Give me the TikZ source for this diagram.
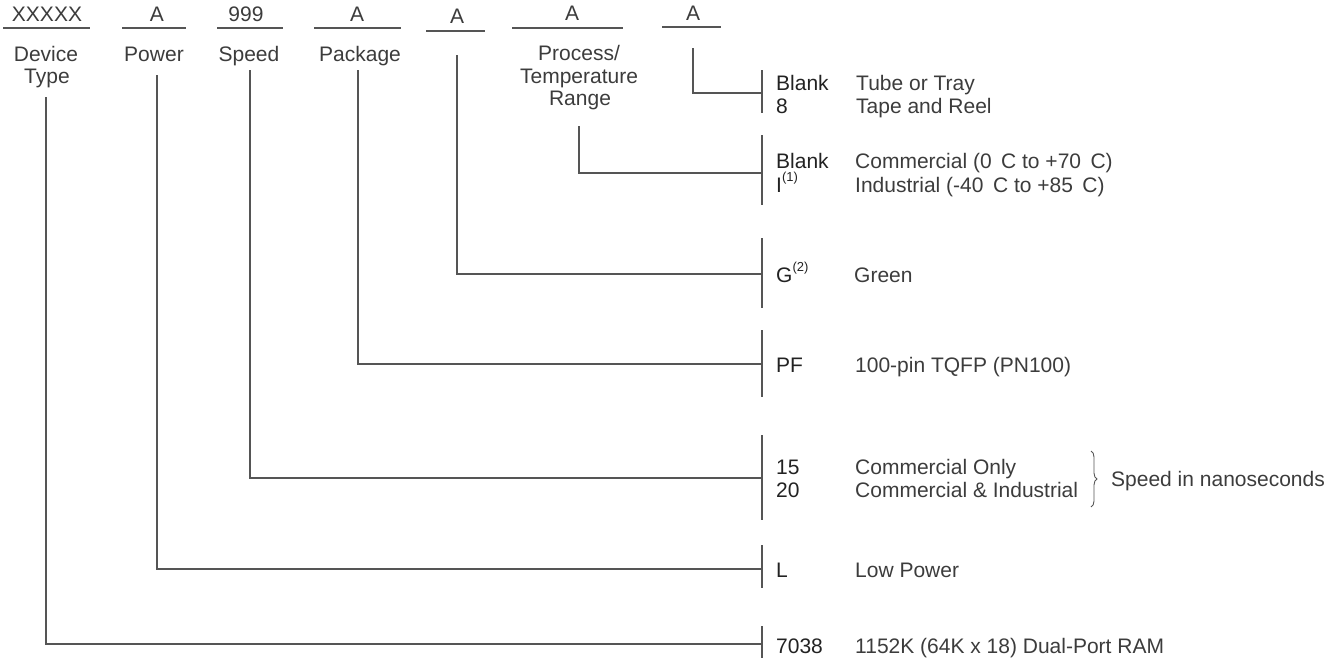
\documentclass[tikz,border=0pt]{standalone}
\usepackage{fontspec}
\setmainfont{Liberation Sans}
\usetikzlibrary{decorations.pathreplacing}
\definecolor{txt}{HTML}{3c3c3c}
\definecolor{codec}{HTML}{222222}
\definecolor{ln}{HTML}{555555}
\newcommand{\supr}[1]{\raisebox{0.5em}{\fontsize{13}{13}\selectfont(#1)}}
\begin{document}
\begin{tikzpicture}[x=1pt,y=-1pt,
  every node/.style={font=\fontsize{21}{23}\selectfont, text=txt, inner sep=0pt},
  toptxt/.style={anchor=base},
  lbl/.style={anchor=base},
  codet/.style={anchor=base west, text=codec},
  desc/.style={anchor=base west},
  uline/.style={draw=ln, line width=1.2pt},
  conn/.style={draw=ln, line width=1.3pt},
  barline/.style={draw=ln, line width=1.3pt}]
\useasboundingbox (0,0) rectangle (1344,657);

% ---- top row fields
\node[toptxt] (f1) at (47,21) {XXXXX};
\node[toptxt] (f2) at (157,21) {A};
\node[toptxt] (f3) at (246,21) {999};
\node[toptxt] (f4) at (357,21) {A};
\node[toptxt] (f5) at (457,23) {A};
\node[toptxt] (f6) at (572,20) {A};
\node[toptxt] (f7) at (693,20) {A};
\coordinate (u1a) at (3,28);   \coordinate (u1b) at (90,28);
\coordinate (u2a) at (122,28); \coordinate (u2b) at (186,28);
\coordinate (u3a) at (217,28); \coordinate (u3b) at (283,28);
\coordinate (u4a) at (314,28); \coordinate (u4b) at (401,28);
\coordinate (u5a) at (426,31); \coordinate (u5b) at (485,31);
\coordinate (u6a) at (512,28); \coordinate (u6b) at (623,28);
\coordinate (u7a) at (662,27); \coordinate (u7b) at (721,27);
\foreach \i in {1,...,7} {\draw[uline] (u\i a) -- (u\i b);}

% ---- field labels
\node[lbl] (l1a) at (46,61) {Device};
\node[lbl] (l1b) at (47,83) {Type};
\node[lbl] (l2) at (154,61) {Power};
\node[lbl] (l3) at (249,61) {Speed};
\node[lbl] (l4) at (360,61) {Package};
\node[lbl] (l6a) at (579,60) {Process/};
\node[lbl] (l6b) at (579,83) {Temperature};
\node[lbl] (l6c) at (580,105) {Range};

% ---- line starts
\coordinate (s1) at (46,97);
\coordinate (s2) at (157,75);
\coordinate (s3) at (250,70);
\coordinate (s4) at (358,70);
\coordinate (s5) at (457,55);
\coordinate (s6) at (579,126);
\coordinate (s7) at (693,48);

% ---- bars (top, join, bottom)
\coordinate (b7t) at (762,70);  \coordinate (b7) at (762,93);  \coordinate (b7b) at (762,113);
\coordinate (b6t) at (762,135); \coordinate (b6) at (762,173); \coordinate (b6b) at (762,205);
\coordinate (b5t) at (762,238); \coordinate (b5) at (762,274); \coordinate (b5b) at (762,308);
\coordinate (b4t) at (762,330); \coordinate (b4) at (762,364); \coordinate (b4b) at (762,397);
\coordinate (b3t) at (762,435); \coordinate (b3) at (762,478); \coordinate (b3b) at (762,520);
\coordinate (b2t) at (762,545); \coordinate (b2) at (762,569); \coordinate (b2b) at (762,588);
\coordinate (b1t) at (762,626); \coordinate (b1) at (762,644); \coordinate (b1b) at (762,660);
\foreach \i in {1,...,7} {
  \draw[barline] (b\i t) -- (b\i b);
  \draw[conn] (s\i) |- (b\i);
}

% ---- option texts
\node[codet] (c7a) at (776,90) {Blank};
\node[codet] (c7b) at (776,113) {8};
\node[desc] (d7a) at (856,90) {Tube or Tray};
\node[desc] (d7b) at (856,113) {Tape and Reel};

\node[codet] (c6a) at (776,168) {Blank};
\node[codet] (c6b) at (776,192) {I\supr{1}};
\node[desc] (d6a) at (855,168) {Commercial (0\hspace{0.45em}C to +70\hspace{0.45em}C)};
\node[desc] (d6b) at (855,192) {Industrial (-40\hspace{0.45em}C to +85\hspace{0.45em}C)};

\node[codet] (c5) at (776,282) {G\supr{2}};
\node[desc] (d5) at (854,282) {Green};

\node[codet] (c4) at (776,372) {PF};
\node[desc] (d4) at (855,372) {100-pin TQFP (PN100)};

\node[codet] (c3a) at (776,474) {15};
\node[codet] (c3b) at (776,497) {20};
\node[desc] (d3a) at (855,474) {Commercial Only};
\node[desc] (d3b) at (855,497) {Commercial \& Industrial};
\coordinate (brt) at (1091,451);
\coordinate (brb) at (1091,507);
\draw[draw=ln, line width=0.9pt, decorate, decoration={brace, amplitude=6pt}] (brt) -- (brb);
\node[desc] (sp) at (1111,486) {Speed in nanoseconds};

\node[codet] (c2) at (776,577) {L};
\node[desc] (d2) at (855,577) {Low Power};

\node[codet] (c1) at (776,653) {7038};
\node[desc] (d1) at (855,653) {1152K (64K x 18) Dual-Port RAM};
\end{tikzpicture}
\end{document}
